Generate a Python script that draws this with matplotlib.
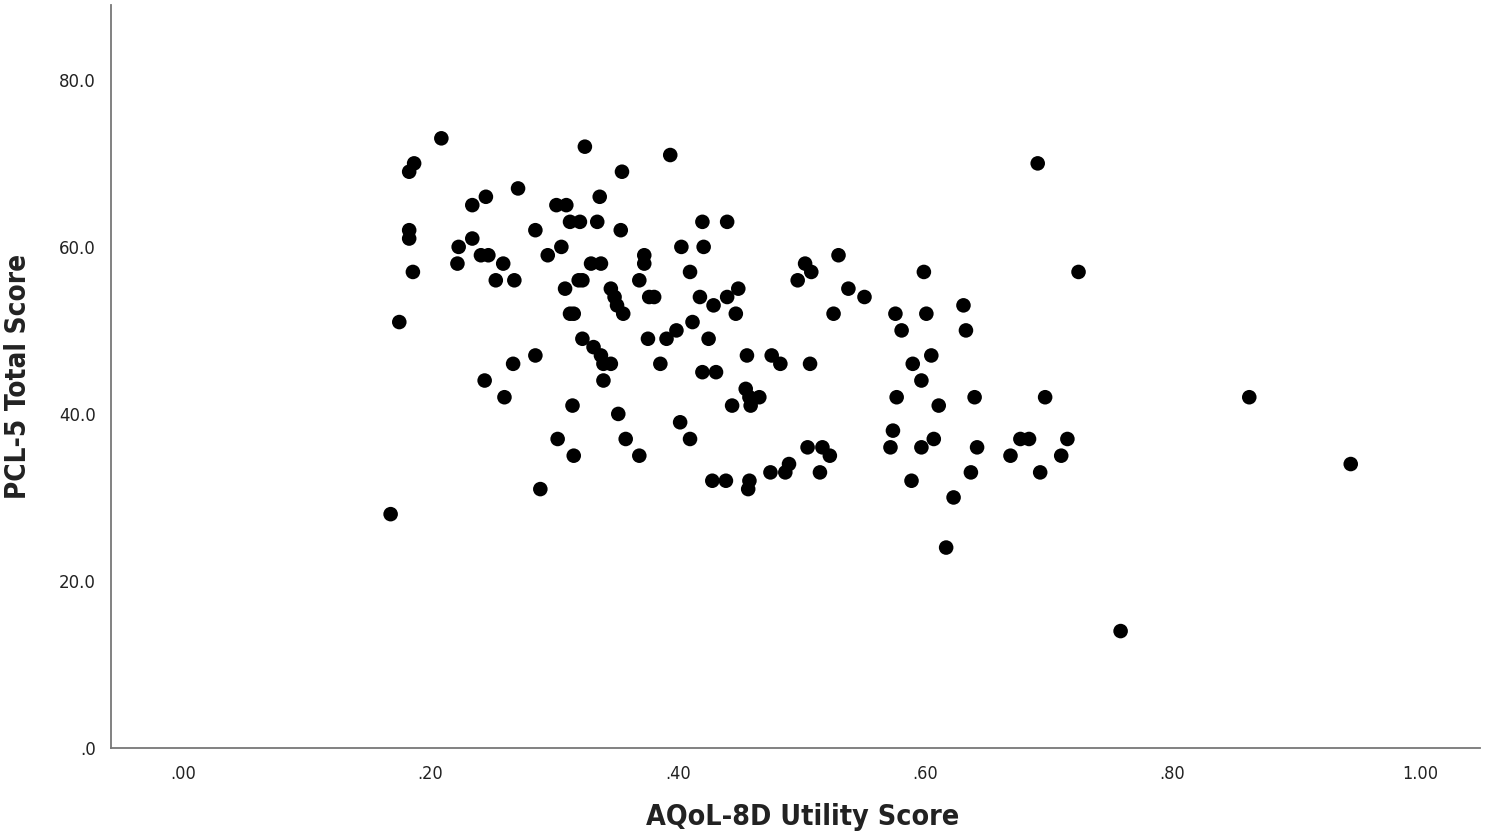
import matplotlib
matplotlib.use("Agg")
import matplotlib.pyplot as plt

# values (AQoL-8D utility, PCL-5 total)
aqol = [
    0.168, 0.175, 0.183, 0.187, 0.183, 0.183, 0.186, 0.209, 0.223, 0.222,
    0.234, 0.234, 0.245, 0.241, 0.247, 0.244, 0.253, 0.259, 0.268, 0.260,
    0.267, 0.271, 0.285, 0.285, 0.289, 0.295, 0.302, 0.310, 0.306, 0.309,
    0.303, 0.313, 0.321, 0.313, 0.316, 0.315, 0.316, 0.320, 0.323, 0.325,
    0.323, 0.330, 0.335, 0.337, 0.338, 0.332, 0.338, 0.340, 0.340, 0.346,
    0.346, 0.349, 0.351, 0.356, 0.354, 0.355, 0.352, 0.358, 0.369, 0.373,
    0.373, 0.377, 0.381, 0.376, 0.369, 0.386, 0.391, 0.394, 0.399, 0.403,
    0.402, 0.410, 0.412, 0.410, 0.420, 0.421, 0.418, 0.420, 0.425, 0.429,
    0.431, 0.428, 0.439, 0.440, 0.440, 0.444, 0.447, 0.449, 0.456, 0.455,
    0.458, 0.459, 0.466, 0.458, 0.457, 0.475, 0.476, 0.483, 0.487, 0.490,
    0.497, 0.503, 0.508, 0.507, 0.505, 0.517, 0.515, 0.523, 0.526, 0.530,
    0.538, 0.551, 0.691, 0.599, 0.724, 0.576, 0.601, 0.631, 0.581, 0.633,
    0.605, 0.590, 0.597, 0.577, 0.611, 0.640, 0.697, 0.574, 0.572, 0.597,
    0.607, 0.642, 0.677, 0.684, 0.715, 0.669, 0.710, 0.637, 0.693, 0.589,
    0.623, 0.617, 0.758, 0.862, 0.944,
]
pcl5 = [
    28, 51, 69, 70, 62, 61, 57, 73, 60, 58,
    65, 61, 66, 59, 59, 44, 56, 58, 56, 42,
    46, 67, 62, 47, 31, 59, 65, 65, 60, 55,
    37, 63, 63, 52, 52, 41, 35, 56, 56, 72,
    49, 58, 63, 66, 58, 48, 47, 46, 44, 46,
    55, 54, 53, 52, 62, 69, 40, 37, 56, 59,
    58, 54, 54, 49, 35, 46, 49, 71, 50, 60,
    39, 57, 51, 37, 63, 60, 54, 45, 49, 53,
    45, 32, 32, 63, 54, 41, 52, 55, 47, 43,
    42, 41, 42, 32, 31, 33, 47, 46, 33, 34,
    56, 58, 57, 46, 36, 36, 33, 35, 52, 59,
    55, 54, 70, 57, 57, 52, 52, 53, 50, 50,
    47, 46, 44, 42, 41, 42, 42, 38, 36, 36,
    37, 36, 37, 37, 37, 35, 35, 33, 33, 32,
    30, 24, 14, 42, 34,
]

x_ticks = [0.0, 0.2, 0.4, 0.6, 0.8, 1.0]
x_ticklabels = [".00", ".20", ".40", ".60", ".80", "1.00"]
y_ticks = [0, 20, 40, 60, 80]
y_ticklabels = [".0", "20.0", "40.0", "60.0", "80.0"]

fig = plt.figure(figsize=(14.98, 8.38), dpi=100)
ax = fig.add_axes([0.0741, 0.1074, 0.9139, 0.887])

ax.scatter(aqol, pcl5, s=110, color="black", edgecolors="none", zorder=3)

ax.set_xlim(-0.058, 1.0485)
ax.set_ylim(0, 89)
ax.set_xticks(x_ticks)
ax.set_xticklabels(x_ticklabels, family="DejaVu Sans", fontstretch="condensed",
                   fontsize=13, color="#222222")
ax.set_yticks(y_ticks)
ax.set_yticklabels(y_ticklabels, family="DejaVu Sans", fontsize=12, color="#222222")
ax.tick_params(axis="both", length=0)
ax.tick_params(axis="x", pad=12)
ax.tick_params(axis="y", pad=11)

for side in ["top", "right"]:
    ax.spines[side].set_visible(False)
for side in ["left", "bottom"]:
    ax.spines[side].set_color("#777777")
    ax.spines[side].set_linewidth(1.3)

ax.set_xlabel("AQoL-8D Utility Score", family="DejaVu Sans", fontstretch="condensed",
              fontweight="bold", fontsize=20.5, color="#222222", va="center")
ax.set_ylabel("PCL-5 Total Score", family="DejaVu Sans", fontstretch="condensed",
              fontweight="bold", fontsize=20, color="#222222", va="center")
ax.xaxis.set_label_coords(0.505, -0.093)
ax.yaxis.set_label_coords(-0.068, 0.5)

fig.savefig("out.png", dpi=100, facecolor="white")
